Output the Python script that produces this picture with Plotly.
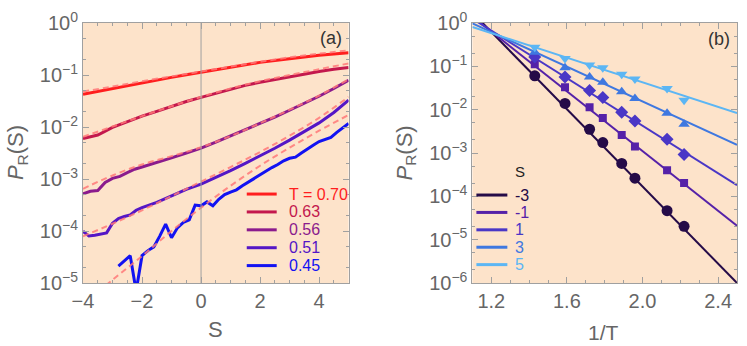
import plotly.graph_objects as go

# ---------------- panel (a): P_R(S) against S, one curve per temperature
T_labels = ["T = 0.70", "0.63", "0.56", "0.51", "0.45"]
T_colors = ["#ff1e1e", "#c3184d", "#8b1b8d", "#5416c6", "#1212f2"]

S_half = [-4.0, -3.5, -3.0, -2.5, -2.0, -1.5, -1.0, -0.5, 0.0, 0.5, 1.0,
          1.5, 2.0, 2.5, 3.0, 3.5, 4.0, 4.5, 5.0]
P_070 = [0.0425, 0.0483, 0.0551, 0.0622, 0.0703, 0.0794, 0.0899, 0.101, 0.113,
         0.126, 0.141, 0.157, 0.175, 0.190, 0.207, 0.223, 0.240, 0.254, 0.269]
P_063 = [6.0e-3, 7.0e-3, 9.8e-3, 1.26e-2, 1.62e-2, 2.0e-2, 2.51e-2, 3.09e-2,
         3.72e-2, 4.47e-2, 5.37e-2, 6.31e-2, 7.24e-2, 8.22e-2, 9.33e-2, 0.105,
         0.117, 0.129, 0.140]

S_056 = [-4.0, -3.75, -3.5, -3.25, -3.0, -2.75, -2.5, -2.25, -2.0, -1.5, -1.0,
         -0.5, 0.0, 0.5, 1.0, 1.5, 2.0, 2.5, 3.0, 3.5, 4.0, 4.5, 5.0]
P_056 = [5.2e-4, 5.8e-4, 6.0e-4, 8.6e-4, 1.03e-3, 1.12e-3, 1.33e-3, 1.54e-3,
         1.70e-3, 2.05e-3, 2.55e-3, 3.16e-3, 3.93e-3, 5.1e-3, 6.7e-3, 8.8e-3,
         1.16e-2, 1.55e-2, 2.1e-2, 2.85e-2, 3.9e-2, 5.5e-2, 7.9e-2]

S_051 = [-4.0, -3.8, -3.6, -3.4, -3.2, -3.0, -2.8, -2.6, -2.4, -2.2, -2.0, -1.5,
         -1.0, -0.5, 0.0, 0.5, 1.0, 1.5, 2.0, 2.5, 3.0, 3.5, 4.0, 4.5, 5.0]
P_051 = [9.9e-5, 8.0e-5, 8.3e-5, 8.6e-5, 9.2e-5, 1.41e-4, 1.74e-4, 1.9e-4,
         2.04e-4, 2.51e-4, 2.82e-4, 3.55e-4, 4.68e-4, 6.3e-4, 8.0e-4, 1.07e-3,
         1.45e-3, 2.0e-3, 2.75e-3, 3.9e-3, 5.6e-3, 8.2e-3, 1.2e-2, 1.9e-2,
         3.3e-2]

S_045 = [-2.8, -2.6, -2.4, -2.2, -2.0, -1.8, -1.6, -1.4, -1.2, -1.0, -0.8, -0.6,
         -0.4, -0.2, 0.0, 0.2, 0.4, 0.6, 0.8, 1.0, 1.2, 1.4, 1.6, 1.8, 2.0, 2.2,
         2.4, 2.6, 2.8, 3.0, 3.2, 3.4, 3.6, 3.8, 4.0, 4.2, 4.4, 4.6, 4.8, 5.0]
P_045 = [2.11e-5, 2.65e-5, 3.36e-5, 7e-6, 3.36e-5, 4.2e-5, 4.95e-5, 7.98e-5,
         1.36e-4, 7.41e-5, 1.15e-4, 1.46e-4, 1.64e-4, 3.15e-4, 3.05e-4, 3.63e-4,
         3.05e-4, 4.07e-4, 5.0e-4, 5.6e-4, 6.2e-4, 7.4e-4, 8.7e-4, 1.03e-3,
         1.23e-3, 1.44e-3, 1.66e-3, 1.9e-3, 2.24e-3, 2.5e-3, 2.63e-3, 3.16e-3,
         3.8e-3, 4.47e-3, 5.25e-3, 5.75e-3, 6.3e-3, 7.9e-3, 9.8e-3, 1.17e-2]

# dashed fits
S_fit = [-4, -3, -2, -1, 0, 1, 2, 3, 4, 5]
F_070 = [0.048, 0.060, 0.076, 0.094, 0.117, 0.145, 0.180, 0.218, 0.257, 0.298]
F_063 = [6.5e-3, 1.02e-2, 1.62e-2, 2.5e-2, 3.8e-2, 5.5e-2, 7.6e-2, 0.100, 0.129, 0.167]
F_056 = [6.5e-4, 1.17e-3, 1.9e-3, 2.75e-3, 4.07e-3, 6.7e-3, 1.18e-2, 2.15e-2, 4.0e-2, 8.3e-2]
F_051 = [7.9e-5, 1.38e-4, 2.5e-4, 4.7e-4, 8.9e-4, 1.7e-3, 3.3e-3, 6.8e-3, 1.5e-2, 3.8e-2]
F_045 = [3.8e-6, 1.15e-5, 3.3e-5, 1.0e-4, 2.8e-4, 7.4e-4, 1.8e-3, 4.0e-3, 8.5e-3, 1.7e-2]

# ---------------- panel (b): P_R(S) against 1/T, one line per S
S_labels = ["-3", "-1", "1", "3", "5"]
S_colors = ["#250b48", "#5521a8", "#4a37c6", "#3f78e0", "#5cb6f4"]
S_symbols = ["circle", "square", "diamond", "triangle-up", "triangle-down"]
S_sizes = [11, 8, 10, 10, 10]

invT = [1.43, 1.59, 1.72, 1.79, 1.89, 1.96, 2.13, 2.22]
P_Sm3 = [0.0605, 0.0139, 3.53e-3, 1.74e-3, 5.73e-4, 2.63e-4, 4.67e-5, 2.03e-5]
P_Sm1 = [0.111, 0.033, 0.0113, 6.46e-3, 2.59e-3, 1.41e-3, 3.98e-4, 2.03e-4]
P_S1 = [0.165, 0.0565, 0.0278, 0.019, 8.7e-3, 5.46e-3, 2.07e-3, 9.2e-4]
P_S3 = [0.21, 0.093, 0.0565, 0.0428, 0.0259, 0.018, 8.26e-3, 4.59e-3]
P_S5 = [0.277, 0.151, 0.107, 0.093, 0.066, 0.0508, 0.0308, 0.0165]

invT_fit = [1.1, 2.5]
L_Sm3 = [1.74, 1.0e-6]
L_Sm1 = [1.41, 2.1e-5]
L_S1 = [1.26, 1.8e-4]
L_S3 = [0.98, 1.55e-3]
L_S5 = [0.81, 8.3e-3]

# ---------------- figure geometry (pixels)
W, H = 747, 346
ML, MR, MT, MB = 83, 9, 17, 63
PW, PH = W - ML - MR, H - MT - MB
BG = "#fde3ca"
FRAME = "#a0a0a0"
TXT = "#666666"
FONT = "Liberation Sans"


def paper(xp, yp):
    return (xp - ML) / PW, (H - MB - yp) / PH


fig = go.Figure()

curves_a = [(S_half, P_070), (S_half, P_063), (S_056, P_056),
            (S_051, P_051), (S_045, P_045)]
fits_a = [F_070, F_063, F_056, F_051, F_045]

for (sx, py), col in zip(curves_a, T_colors):
    fig.add_trace(go.Scatter(x=sx, y=py, mode="lines",
                             line=dict(color=col, width=3),
                             xaxis="x", yaxis="y", showlegend=False))
for fy in fits_a:
    fig.add_trace(go.Scatter(x=S_fit, y=fy, mode="lines",
                             line=dict(color="rgba(255,120,120,0.85)", width=2,
                                       dash="6px,4px", shape="spline"),
                             xaxis="x", yaxis="y", showlegend=False))

lines_b = [L_Sm3, L_Sm1, L_S1, L_S3, L_S5]
points_b = [P_Sm3, P_Sm1, P_S1, P_S3, P_S5]
for ly, col in zip(lines_b, S_colors):
    fig.add_trace(go.Scatter(x=invT_fit, y=ly, mode="lines",
                             line=dict(color=col, width=2),
                             xaxis="x2", yaxis="y2", showlegend=False))
for py, col, sym, sz in zip(points_b, S_colors, S_symbols, S_sizes):
    fig.add_trace(go.Scatter(x=invT, y=py, mode="markers",
                             marker=dict(color=col, symbol=sym, size=sz),
                             xaxis="x2", yaxis="y2", showlegend=False))

tick_font = dict(family=FONT, size=20, color=TXT)


def exp_text(n):
    return "10<sup>%s</sup>" % ("0" if n == 0 else "\u2212%d" % -n)


common = dict(showline=True, linecolor=FRAME, linewidth=1, mirror="ticks",
              ticks="inside", ticklen=6, tickcolor=FRAME, showgrid=False,
              zeroline=False, tickfont=tick_font)

fig.update_layout(
    width=W, height=H,
    margin=dict(l=ML, r=MR, t=MT, b=MB),
    paper_bgcolor="white", plot_bgcolor=BG,
    xaxis=dict(domain=[0, 266 / PW], range=[-4, 5], tickvals=[-4, -2, 0, 2, 4],
               ticktext=["\u22124", "\u22122", "0", "2", "4"],
               minor=dict(dtick=0.5, ticks="inside", ticklen=3, tickcolor=FRAME),
               anchor="y", **common),
    yaxis=dict(domain=[0, 1], type="log", range=[-5, 0],
               tickvals=[10.0 ** k for k in range(-5, 1)],
               ticktext=[exp_text(k) for k in range(-5, 1)],
               minor=dict(ticks="inside", ticklen=3, tickcolor=FRAME),
               anchor="x", **common),
    xaxis2=dict(domain=[390 / PW, 1], range=[1.1, 2.5],
                tickvals=[1.2, 1.6, 2.0, 2.4], ticktext=["1.2", "1.6", "2.0", "2.4"],
                minor=dict(dtick=0.1, ticks="inside", ticklen=3, tickcolor=FRAME),
                anchor="y2", **common),
    yaxis2=dict(domain=[0, 1], type="log", range=[-6, 0],
                tickvals=[10.0 ** k for k in range(-6, 1)],
                ticktext=[exp_text(k) for k in range(-6, 1)],
                minor=dict(ticks="inside", ticklen=3, tickcolor=FRAME),
                anchor="x2", **common),
)

# vertical line at S = 0
fig.add_shape(type="line", xref="x", yref="y domain", x0=0, x1=0, y0=0, y1=1,
              line=dict(color="#a0a0a0", width=1))

ann = []
shapes = []


def text(xp, yp, s, size, color=TXT, angle=0, xanchor="center"):
    px_, py_ = paper(xp, yp)
    ann.append(dict(x=px_, y=py_, xref="paper", yref="paper", text=s,
                    showarrow=False, xanchor=xanchor, yanchor="middle",
                    textangle=angle,
                    font=dict(family=FONT, size=size, color=color)))


# axis titles
text(216, 331, "S", 22)
text(604, 334, "1/T", 21)
text(17, 150, "<i>P</i><sub>R</sub>(S)", 22, angle=-90)
text(406, 150, "<i>P</i><sub>R</sub>(S)", 22, angle=-90)
text(331, 32, "(a)", 18, color="#333333")
text(720, 33, "(b)", 18, color="#333333")

# legend of panel (a)
for i, (lab, col) in enumerate(zip(T_labels, T_colors)):
    yp = 192 + i * 18.3
    x0, y0 = paper(247, yp)
    x1, _ = paper(277, yp)
    shapes.append(dict(type="line", xref="paper", yref="paper", x0=x0, x1=x1,
                       y0=y0, y1=y0, line=dict(color=col, width=3)))
    text(287, yp, lab, 16, color=col, xanchor="left")

# legend of panel (b)
text(514, 169, "S", 15, color="#222222", xanchor="left")
for i, (lab, col) in enumerate(zip(S_labels, S_colors)):
    yp = 193 + i * 17.8
    x0, y0 = paper(477, yp)
    x1, _ = paper(508, yp)
    shapes.append(dict(type="line", xref="paper", yref="paper", x0=x0, x1=x1,
                       y0=y0, y1=y0, line=dict(color=col, width=3)))
    text(514, yp, lab, 16, color=col, xanchor="left")

fig.update_layout(annotations=ann)
for s in shapes:
    fig.add_shape(**s)

# the page's default body margin would shift the figure by 8 px
fig.write_html("out.html", config={"displayModeBar": False},
               post_script="document.body.style.margin='0';")
